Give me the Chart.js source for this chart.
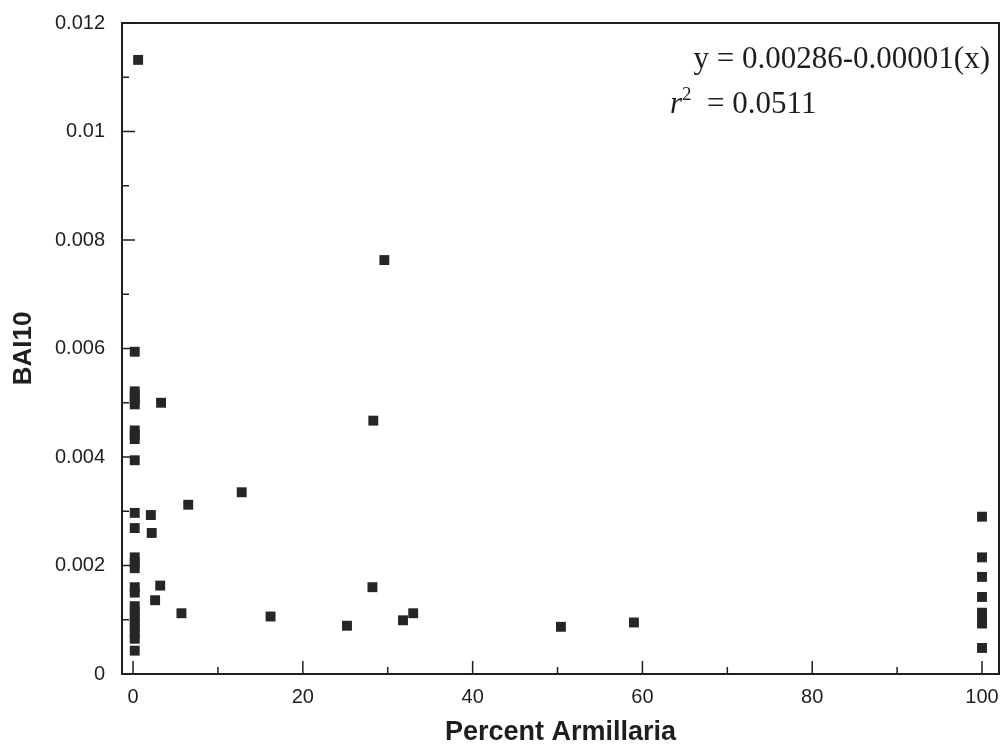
<!DOCTYPE html>
<html>
<head>
<meta charset="utf-8">
<script src="https://cdn.jsdelivr.net/npm/chart.js@4"></script>
<style>
  body { margin: 0; background: #fff; }
  #wrap { position: relative; width: 1003px; height: 750px; }
  .eq { position: absolute; font-family: "Liberation Serif", "Times New Roman", serif; font-size: 31px; line-height: 30px; color: #1e1e1e; white-space: nowrap; }
  .eq sup { font-size: 19px; position: relative; top: -2px; vertical-align: super; line-height: 0; }
</style>
</head>
<body>
<div id="wrap">
  <canvas id="chart" width="1003" height="750"></canvas>
  <div class="eq" style="right: 13px; top: 43px;">y = 0.00286-0.00001(x)</div>
  <div class="eq" style="left: 670px; top: 88px;"><i>r</i><sup>2</sup>&nbsp; = 0.0511</div>
</div>
<script>
// Percent Armillaria (x) and BAI10 (y)
const armillaria = [
    0.6,
    0.2, 0.2, 0.2, 0.2, 0.2, 0.2, 0.2, 0.2, 0.2, 0.2, 0.2, 0.2, 0.2, 0.2,
    0.2, 0.2, 0.2, 0.2, 0.2, 0.2, 0.2, 0.2, 0.2, 0.2,
    3.3, 2.1, 2.2, 6.5, 12.8, 3.2, 2.6, 5.7,
    16.2, 25.2, 28.2, 31.8, 33.0, 50.4, 59.0, 28.3, 29.6,
    100, 100, 100, 100, 100, 100, 100, 100
];
const bai10 = [
    0.01132,
    0.00594, 0.00521, 0.00513, 0.00505, 0.00497, 0.00449, 0.00441, 0.00433, 0.00394, 0.00297, 0.00269, 0.00215, 0.00205, 0.00195,
    0.0016, 0.0015, 0.00125, 0.00115, 0.00105, 0.00095, 0.00085, 0.00075, 0.00065, 0.00043,
    0.0050, 0.00293, 0.0026, 0.00312, 0.00335, 0.00163, 0.00136, 0.00112,
    0.00106, 0.00089, 0.0016, 0.00099, 0.00112, 0.00087, 0.00095, 0.00467, 0.00763,
    0.0029, 0.00215, 0.00179, 0.00142, 0.00113, 0.00103, 0.00093, 0.00048
];

const xTicks = [0, 20, 40, 60, 80, 100];
const xMinorTicks = [10, 30, 50, 70, 90];
const yTicks = [0, 0.002, 0.004, 0.006, 0.008, 0.01, 0.012];
const yTickLabels = ['0', '0.002', '0.004', '0.006', '0.008', '0.01', '0.012'];
const yMinorTicks = [0.001, 0.003, 0.005, 0.007, 0.009, 0.011];

const ink = '#1e1e1e';

// box around the plot plus inward tick marks
const frameAndTicks = {
    id: 'frameAndTicks',
    beforeDatasetsDraw(chart) {
        const {ctx, chartArea: a, scales: {x, y}} = chart;
        ctx.save();
        ctx.strokeStyle = ink;
        ctx.lineWidth = 2;
        ctx.strokeRect(a.left, a.top, a.right - a.left, a.bottom - a.top);

        ctx.lineWidth = 1.5;
        ctx.beginPath();
        const mark = (vals, len) => {
            for (const v of vals) {
                const px = x.getPixelForValue(v);
                ctx.moveTo(px, a.bottom);
                ctx.lineTo(px, a.bottom - len);
            }
        };
        const markY = (vals, len) => {
            for (const v of vals) {
                const py = y.getPixelForValue(v);
                ctx.moveTo(a.left, py);
                ctx.lineTo(a.left + len, py);
            }
        };
        mark(xTicks, 13);
        mark(xMinorTicks, 7);
        markY(yTicks, 13);
        markY(yMinorTicks, 7);
        ctx.stroke();
        ctx.restore();
    }
};

// fixed box size, and no extra room for overhanging labels
const fixBox = (w, h) => (s) => {
    if (w != null) s.width = w;
    if (h != null) s.height = h;
    s.paddingLeft = 0;
    s.paddingRight = 0;
    s.paddingTop = 0;
    s.paddingBottom = 0;
};

const createChart = () => {
    const data = {
        datasets: [{
            data: armillaria.map((v, i) => ({x: v, y: bai10[i]})),
            pointStyle: 'rect',
            pointRadius: 7,
            pointBorderWidth: 0,
            backgroundColor: '#262626',
            borderColor: '#262626'
        }]
    };

    const config = {
        type: 'scatter',
        data,
        plugins: [frameAndTicks],
        options: {
            responsive: false,
            animation: false,
            layout: {autoPadding: false, padding: {top: 23, right: 4, left: 0, bottom: 0}},
            plugins: {legend: {display: false}, tooltip: {enabled: false}},
            scales: {
                x: {
                    type: 'linear',
                    min: -1.3,
                    max: 102,
                    grid: {display: false, drawTicks: false},
                    border: {display: false},
                    afterBuildTicks: (s) => { s.ticks = xTicks.map(v => ({value: v})); },
                    afterFit: fixBox(null, 76),
                    ticks: {
                        padding: 11,
                        color: ink,
                        font: {family: '"Liberation Sans", Arial, sans-serif', size: 20},
                        callback: (v) => String(v)
                    },
                    title: {
                        display: true,
                        text: 'Percent Armillaria',
                        color: ink,
                        font: {family: '"Liberation Sans", Arial, sans-serif', size: 27, weight: 'bold', lineHeight: 1},
                        padding: {top: 0, bottom: 4}
                    }
                },
                y: {
                    type: 'linear',
                    min: 0,
                    max: 0.012,
                    grid: {display: false, drawTicks: false},
                    border: {display: false},
                    afterBuildTicks: (s) => { s.ticks = yTicks.map(v => ({value: v})); },
                    afterFit: fixBox(122, null),
                    ticks: {
                        padding: 17,
                        color: ink,
                        font: {family: '"Liberation Sans", Arial, sans-serif', size: 20},
                        callback: (v) => yTickLabels[yTicks.indexOf(v)] ?? ''
                    },
                    title: {
                        display: true,
                        text: 'BAI10',
                        color: ink,
                        font: {family: '"Liberation Sans", Arial, sans-serif', size: 26, weight: 'bold', lineHeight: 1},
                        padding: {top: 11, bottom: 0}
                    }
                }
            }
        }
    };

    new Chart(document.getElementById('chart'), config);
};

window.onload = () => {
    createChart();
};
</script>
</body>
</html>
